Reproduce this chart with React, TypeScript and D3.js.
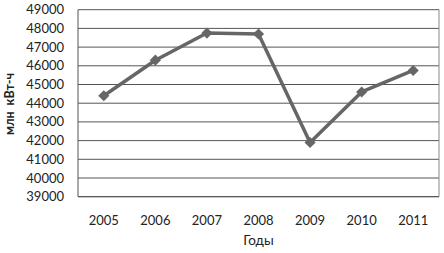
import React from "react";
import * as d3 from "d3";

const years = ["2005", "2006", "2007", "2008", "2009", "2010", "2011"];
const values = [44400, 46300, 47750, 47700, 41900, 44600, 45750];
const yTicks = [39000, 40000, 41000, 42000, 43000, 44000, 45000, 46000, 47000, 48000, 49000];
const xTitle = "Годы";
const yTitle = "млн  кВт-ч";

export default function App() {
  const W = 444, H = 253;
  const left = 78, right = 439, top = 9.7, bottom = 196.7;
  const x = d3.scaleBand<string>().domain(years).range([left, right]);
  const y = d3.scaleLinear().domain([39000, 49000]).range([bottom, top]);
  const line = d3.line<number>()
    .x((_, i) => (x(years[i]) as number) + x.bandwidth() / 2)
    .y((v) => y(v));
  const font = "Lato, 'Open Sans', sans-serif";
  const diamond = d3.symbol(d3.symbolSquare, 62)();
  return (
    <svg width={W} height={H} style={{ position: "absolute", left: 0, top: 0, background: "#fff" }}>
      {yTicks.map((t) => (
        <line key={t} x1={left} x2={right} y1={y(t)} y2={y(t)} stroke="#555" strokeWidth={1} />
      ))}
      <line x1={right} x2={right} y1={top} y2={bottom} stroke="#888" strokeWidth={1} />
      <line x1={left} x2={left} y1={top} y2={bottom} stroke="#555" strokeWidth={1} />
      <line x1={left} x2={right} y1={bottom} y2={bottom} stroke="#555" strokeWidth={1} />
      {yTicks.map((t) => (
        <text key={t} x={64} y={y(t)} dy="0.35em" textAnchor="end" fontFamily={font} fontSize={13} fill="#222">
          {t}
        </text>
      ))}
      {years.map((yr) => (
        <text key={yr} x={(x(yr) as number) + x.bandwidth() / 2} y={220} dy="0.35em" textAnchor="middle" fontFamily={font} fontSize={13} fill="#222">
          {yr}
        </text>
      ))}
      <text x={(left + right) / 2} y={240} dy="0.35em" textAnchor="middle" fontFamily={font} fontSize={13.5} fill="#222">
        {xTitle}
      </text>
      <text transform={`translate(10,104) rotate(-90)`} dy="0.35em" textAnchor="middle" fontFamily={font} fontSize={12.5} fontWeight="bold" fill="#222" style={{ whiteSpace: "pre" }}>
        {yTitle}
      </text>
      <path d={line(values) || ""} fill="none" stroke="#666" strokeWidth={3.5} strokeLinejoin="round" />
      {values.map((v, i) => (
        <path key={i} d={diamond || ""} transform={`translate(${(x(years[i]) as number) + x.bandwidth() / 2},${y(v)}) rotate(45)`} fill="#666" />
      ))}
    </svg>
  );
}
